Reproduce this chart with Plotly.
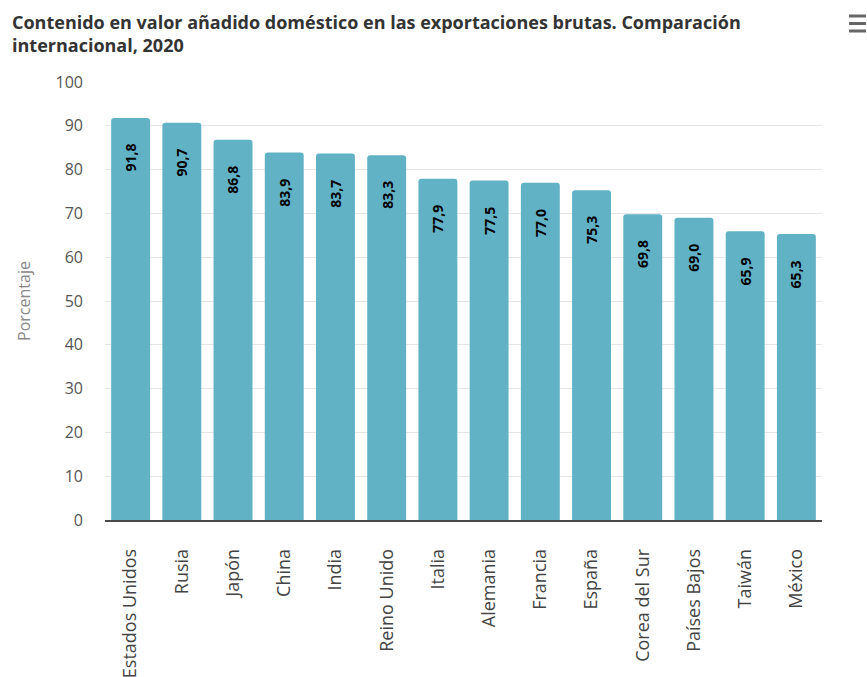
import plotly.graph_objects as go

paises = ["Estados Unidos", "Rusia", "Japón", "China", "India", "Reino Unido",
          "Italia", "Alemania", "Francia", "España", "Corea del Sur",
          "Países Bajos", "Taiwán", "México"]
valores = [91.8, 90.7, 86.8, 83.9, 83.7, 83.3, 77.9, 77.5, 77.0, 75.3,
           69.8, 69.0, 65.9, 65.3]
ticks_y = [0, 10, 20, 30, 40, 50, 60, 70, 80, 90, 100]

# value labels with decimal comma
etiquetas = [f"{v:.1f}".replace(".", ",") for v in valores]

L, R, T, B = 105, 45, 82, 157
W, H = 867, 677
pw, ph = W - L - R, H - T - B


def px_x(x):
    return (x - L) / pw


def px_y(y):
    return 1 + (T - y) / ph


fig = go.Figure(go.Bar(
    x=paises,
    y=valores,
    marker=dict(color="#62B2C6", cornerradius=3, line=dict(width=0)),
    hoverinfo="x+y",
))

# rotated value labels sitting a little below each bar top
for pais, v, et in zip(paises, valores, etiquetas):
    fig.add_annotation(
        x=pais, y=v, xref="x", yref="y",
        text=et, textangle=-90, showarrow=False,
        xanchor="center", yanchor="top", yshift=-24,
        font=dict(family="Open Sans", size=14, color="#000000", weight="bold"),
    )

fig.update_layout(
    width=W, height=H,
    margin=dict(l=L, r=R, t=T, b=B, autoexpand=False),
    paper_bgcolor="white",
    plot_bgcolor="white",
    bargap=0.24,
    showlegend=False,
    font=dict(family="Open Sans", color="#333333"),
    xaxis=dict(
        tickangle=-90,
        tickfont=dict(size=18, color="#444444"),
        showline=True, linecolor="#4a4a4a", linewidth=1.5,
        ticks="", ticklabelstandoff=20,
        showgrid=False, automargin=False,
    ),
    yaxis=dict(
        range=[0, 100],
        tickvals=ticks_y,
        tickfont=dict(size=16, color="#555555"),
        gridcolor="#e6e6e6", gridwidth=1,
        zeroline=False, showline=False,
        ticks="", ticklabelstandoff=21, automargin=False,
        title=dict(text="Porcentaje", font=dict(size=16, color="#888888"), standoff=20),
    ),
)

fig.add_annotation(
    text="Contenido en valor añadido doméstico en las exportaciones brutas. Comparación<br>internacional, 2020",
    xref="paper", yref="paper", x=px_x(10), y=px_y(8),
    xanchor="left", yanchor="top", align="left", showarrow=False,
    font=dict(family="Open Sans", size=18, color="#333333", weight="bold"),
)

# menu icon in the top-right corner
for yy in [16, 23.5, 31]:
    fig.add_shape(type="line", xref="paper", yref="paper",
                  x0=px_x(849), x1=px_x(866), y0=px_y(yy), y1=px_y(yy),
                  line=dict(color="#666666", width=3))

fig.write_html("out.html")
